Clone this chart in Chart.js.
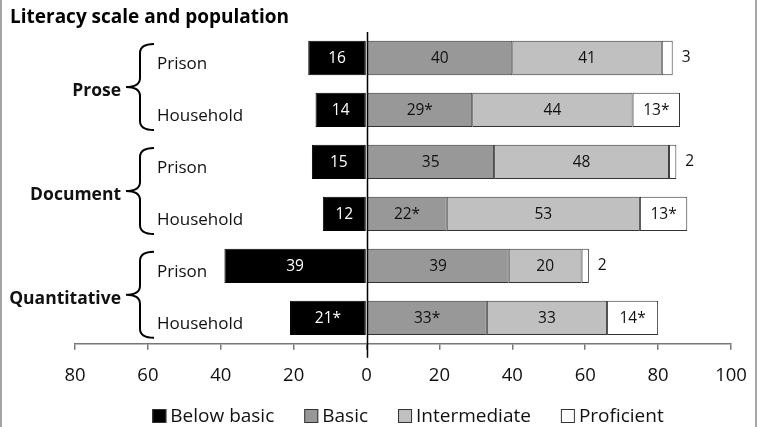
<!DOCTYPE html>
<html>
<head>
<meta charset="utf-8">
<script src="https://cdn.jsdelivr.net/npm/chart.js@4.4.0/dist/chart.umd.min.js"></script>
<style>
  body { margin: 0; background: #fff; }
  #wrap { width: 766px; height: 427px; }
</style>
</head>
<body>
<div id="wrap"><canvas id="chart" width="766" height="427"></canvas></div>
<script>
// literacy levels by scale and population (percent)
const rows = ["Prison", "Household", "Prison", "Household", "Prison", "Household"];
const groups = ["Prose", "Document", "Quantitative"];
const levels = ["Below basic", "Basic", "Intermediate", "Proficient"];

const belowBasic = [16, 14, 15, 12, 39, 21];
const basic = [40, 29, 35, 22, 39, 33];
const intermediate = [41, 44, 48, 53, 20, 33];
const proficient = [3, 13, 2, 13, 2, 14];

// * = significantly different from prison
const belowBasicStar = [false, false, false, false, false, true];
const basicStar = [false, true, false, true, false, true];
const intermediateStar = [false, false, false, false, false, false];
const proficientStar = [false, true, false, true, false, true];

const xTicks = [-80, -60, -40, -20, 0, 20, 40, 60, 80, 100];

const FONT = "'Open Sans', sans-serif";
const fills = ["#000000", "#989898", "#c0c0c0", "#ffffff"];
const stars = [belowBasicStar, basicStar, intermediateStar, proficientStar];

const extras = {
  id: "extras",
  beforeDraw(chart) {
    const ctx = chart.ctx;
    ctx.save();
    // frame lines left and right
    ctx.strokeStyle = "#888";
    ctx.lineWidth = 1.5;
    ctx.beginPath();
    ctx.moveTo(1, 0); ctx.lineTo(1, 427);
    ctx.moveTo(756, 0); ctx.lineTo(756, 427);
    ctx.stroke();
    // title
    ctx.fillStyle = "#000";
    ctx.font = "bold 19px " + FONT;
    ctx.textBaseline = "alphabetic";
    ctx.fillText("Literacy scale and population", 10, 23);
    ctx.restore();
  },
  afterDatasetsDraw(chart) {
    const ctx = chart.ctx;
    const x = chart.scales.x, y = chart.scales.y;
    const area = chart.chartArea;
    ctx.save();

    // zero line
    const x0 = Math.round(x.getPixelForValue(0)) + 0.5;
    ctx.strokeStyle = "#000";
    ctx.lineWidth = 1.5;
    ctx.beginPath();
    ctx.moveTo(x0, area.top);
    ctx.lineTo(x0, area.bottom + 14);
    ctx.stroke();

    // value labels
    ctx.font = "15.5px " + FONT;
    ctx.textBaseline = "middle";
    chart.data.datasets.forEach((ds, di) => {
      const meta = chart.getDatasetMeta(di);
      meta.data.forEach((bar, i) => {
        const v = Math.abs(ds.data[i]);
        const txt = v + (stars[di][i] ? "*" : "");
        if (v < 5) {
          ctx.fillStyle = "#111";
          ctx.textAlign = "left";
          ctx.fillText(txt, Math.max(bar.x, bar.base) + 9, bar.y);
        } else {
          ctx.fillStyle = di === 0 ? "#fff" : "#111";
          ctx.textAlign = "center";
          ctx.fillText(txt, (bar.x + bar.base) / 2, bar.y + 1);
        }
      });
    });

    // row labels, braces, group labels
    ctx.fillStyle = "#111";
    ctx.textAlign = "left";
    ctx.font = "17px " + FONT;
    rows.forEach((r, i) => ctx.fillText(r, 157, y.getPixelForValue(i) + 6));

    ctx.strokeStyle = "#000";
    ctx.lineWidth = 2;
    groups.forEach((g, gi) => {
      const top = y.getPixelForValue(gi * 2) - 14;
      const bot = y.getPixelForValue(gi * 2 + 1) + 20;
      const mid = (top + bot) / 2;
      const xv = 140, xe = 154, xt = 126, r = 9;
      ctx.beginPath();
      ctx.moveTo(xe, top);
      ctx.quadraticCurveTo(xv, top, xv, top + r);
      ctx.lineTo(xv, mid - r);
      ctx.quadraticCurveTo(xv, mid, xt, mid);
      ctx.quadraticCurveTo(xv, mid, xv, mid + r);
      ctx.lineTo(xv, bot - r);
      ctx.quadraticCurveTo(xv, bot, xe, bot);
      ctx.stroke();

      ctx.font = "bold 17.5px " + FONT;
      ctx.textAlign = "right";
      ctx.fillText(g, 121, mid + 4);
    });

    // legend
    ctx.font = "19px " + FONT;
    ctx.textAlign = "left";
    const box = 14, gap = 4, itemGap = 30;
    const widths = levels.map(l => box + gap + ctx.measureText(l).width);
    const total = widths.reduce((a, b) => a + b, 0) + itemGap * (levels.length - 1);
    let lx = (area.left + area.right) / 2 + 5 - total / 2;
    const ly = 416;
    levels.forEach((l, i) => {
      ctx.fillStyle = fills[i];
      ctx.fillRect(lx, ly - box / 2, box, box);
      ctx.strokeStyle = "#333";
      ctx.lineWidth = 1;
      ctx.strokeRect(lx + 0.5, ly - box / 2 + 0.5, box - 1, box - 1);
      ctx.fillStyle = "#111";
      ctx.fillText(l, lx + box + gap, ly + 1);
      lx += widths[i] + itemGap;
    });
    ctx.restore();
  }
};

const series = [belowBasic.map(v => -v), basic, intermediate, proficient];

new Chart(document.getElementById("chart"), {
  type: "bar",
  data: {
    labels: rows,
    datasets: levels.map((l, i) => ({
      label: l,
      data: series[i],
      backgroundColor: fills[i],
      borderColor: i === 0 ? "#000" : "#333",
      borderWidth: 1,
      borderSkipped: false,
      barPercentage: 0.66,
      categoryPercentage: 1
    }))
  },
  options: {
    indexAxis: "y",
    responsive: false,
    animation: false,
    layout: { padding: { left: 75, right: 35, top: 32, bottom: 25 } },
    plugins: { legend: { display: false }, tooltip: { enabled: false } },
    scales: {
      x: {
        stacked: true,
        min: -80,
        max: 100,
        afterBuildTicks: axis => { axis.ticks = xTicks.map(v => ({ value: v })); },
        ticks: {
          autoSkip: false,
          maxRotation: 0,
          callback: v => Math.abs(v),
          color: "#111",
          font: { family: FONT, size: 18.5 },
          padding: 15
        },
        grid: { drawOnChartArea: false, drawTicks: true, tickLength: 6, color: "#777", lineWidth: 1.5 },
        border: { color: "#777", width: 1.5 }
      },
      y: { stacked: true, display: false }
    }
  },
  plugins: [extras]
});
</script>
</body>
</html>
